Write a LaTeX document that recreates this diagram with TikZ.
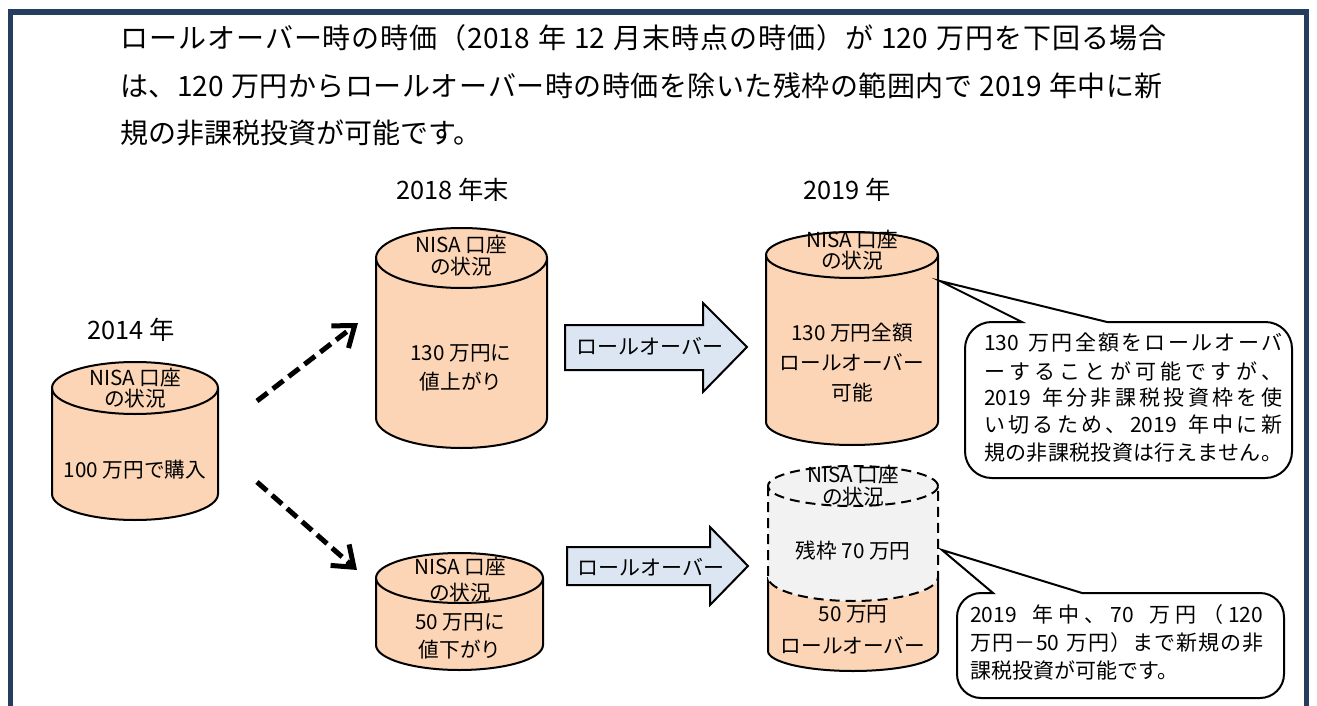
\documentclass[tikz,border=0pt]{standalone}
\usepackage{fontspec}
\setmainfont{Noto Sans CJK JP}
\usetikzlibrary{arrows.meta}
\definecolor{navy}{RGB}{38,62,94}
\definecolor{peach}{RGB}{251,213,181}
\definecolor{grayf}{RGB}{242,242,242}
\definecolor{arrowblue}{RGB}{220,230,242}
% distribute characters evenly in a box of fixed width
\def\jusend{\jusend}
\def\jusgobble#1{}
\def\jus#1{\jusfirst#1\jusend}
\def\jusfirst#1{#1\jusA}
\def\jusA{\futurelet\jusnext\jusB}
\def\jusB{\ifx\jusnext\jusend\expandafter\jusgobble\else\expandafter\jusC\fi}
\def\jusC#1{\hskip 0pt plus 1fil#1\jusA}
\newcommand\cylshape[6]{%
  \path[fill=#6] (#1,-#3) -- (#1,-#4) arc[start angle=180,end angle=360,x radius={(#2-#1)/2},y radius=#5] -- (#2,-#3) arc[start angle=0,end angle=180,x radius={(#2-#1)/2},y radius=#5] -- cycle;
  \draw[cylline] (#1,-#3) -- (#1,-#4) arc[start angle=180,end angle=360,x radius={(#2-#1)/2},y radius=#5] -- (#2,-#3);
  \draw[cylline] ({(#1+#2)/2},-#3) ellipse[x radius={(#2-#1)/2},y radius=#5];
}
\tikzset{
  cylline/.style={line width=1.5pt},
  titletext/.style={anchor=west, inner sep=0pt, font=\fontsize{21}{25}\selectfont},
  yeartext/.style={inner sep=0pt, font=\fontsize{19}{22}\selectfont},
  cyltext/.style={inner sep=0pt, align=center, font=\fontsize{15.5}{#1}\selectfont},
  calltext/.style={anchor=west, inner sep=0pt, font=\fontsize{15.75}{18}\selectfont},
  callout/.style={draw, fill=white, line width=1.5pt, line join=miter},
  blockarrow/.style={draw, fill=arrowblue, line width=1.5pt, line join=miter},
  arrowtext/.style={inner sep=0pt, font=\fontsize{15.75}{18}\selectfont},
  dasharrow/.style={line width=3.75pt, dash pattern=on 10pt off 5pt, -{Straight Barb[length=14pt,width=21pt]}},
}
\begin{document}
\begin{tikzpicture}[x=0.75pt,y=0.75pt]
\useasboundingbox (0,0) rectangle (1317,-706);
% frame
\draw[navy, line width=4.2pt, line join=miter] (10.5,-706) -- (10.5,-12) -- (1306.5,-12) -- (1306.5,-706);
% title
\node[titletext] (t1) at (120,-38) {\hbox to 785pt{\jus{ロールオーバー時の時価（{2018}\ 年\ {12}\ 月末時点の時価）が\ {120}\ 万円を下回る場合}}};
\node[titletext] (t2) at (120,-86) {\hbox to 782pt{\jus{は、{120}\ 万円からロールオーバー時の時価を除いた残枠の範囲内で\ {2019}\ 年中に新}}};
\node[titletext] (t3) at (120,-133) {規の非課税投資が可能です。};
% year labels
\node[yeartext] (y2014) at (131,-330) {2014 年};
\node[yeartext] (y2018) at (453,-190) {2018 年末};
\node[yeartext] (y2019) at (847,-190) {2019 年};
% cylinder 1
\cylshape{52}{218}{388}{494}{26}{peach}
\node[cyltext=15.75] (c1a) at (135,-388) {NISA 口座\\の状況};
\node[cyltext=16] (c1b) at (135,-470) {100 万円で購入};
% cylinder 2
\cylshape{376}{547}{258}{418}{30}{peach}
\node[cyltext=16.5] (c2a) at (461,-256) {NISA 口座\\の状況};
\node[cyltext=21.75] (c2b) at (461,-368) {130 万円に\\値上がり};
% cylinder 3
\cylshape{766}{938}{255}{422}{23}{peach}
\node[cyltext=15.75] (c3a) at (852,-250) {NISA 口座\\の状況};
\node[cyltext=22.5] (c3b) at (852,-363) {130 万円全額\\ロールオーバー\\可能};
% cylinder 4
\cylshape{376}{543}{578}{645}{25}{peach}
\node[cyltext=19.5] (c4a) at (460,-580) {NISA 口座\\の状況};
\node[cyltext=21] (c4b) at (460,-636) {50 万円に\\値下がり};
% cylinder 5 (split)
\path[fill=peach] (768,-577) -- (768,-651) arc[start angle=180,end angle=360,x radius=85,y radius=20] -- (938,-577) arc[start angle=0,end angle=-180,x radius=85,y radius=24] -- cycle;
\draw[cylline] (768,-577) -- (768,-651) arc[start angle=180,end angle=360,x radius=85,y radius=20] -- (938,-577);
\path[fill=grayf] (768,-486) -- (768,-577) arc[start angle=180,end angle=360,x radius=85,y radius=24] -- (938,-486) arc[start angle=0,end angle=180,x radius=85,y radius=20] -- cycle;
\draw[cylline, dash pattern=on 7.5pt off 4.5pt] (768,-486) -- (768,-577) arc[start angle=180,end angle=360,x radius=85,y radius=24] -- (938,-486);
\draw[cylline, dash pattern=on 7.5pt off 4.5pt] (853,-486) ellipse[x radius=85,y radius=20];
\node[cyltext=16.5] (c5a) at (853,-486) {NISA 口座\\の状況};
\node[cyltext=16] (c5b) at (853,-551) {残枠 70 万円};
\node[cyltext=24] (c5c) at (853,-630) {50 万円\\ロールオーバー};
% dashed arrows
\coordinate (ua) at (257,-401);
\coordinate (ub) at (358,-323);
\coordinate (la) at (257,-482);
\coordinate (lb) at (357,-570);
\draw[dasharrow] (ua) -- (ub);
\draw[dasharrow] (la) -- (lb);
% block arrows
\draw[blockarrow] (565,-325) -- (703,-325) -- (703,-303) -- (747,-347) -- (703,-392) -- (703,-370) -- (565,-370) -- cycle;
\node[arrowtext] (ar1) at (650,-346) {ロールオーバー};
\draw[blockarrow] (567,-547) -- (710,-547) -- (710,-527) -- (748,-566) -- (710,-605) -- (710,-585) -- (567,-585) -- cycle;
\node[arrowtext] (ar2) at (651,-567) {ロールオーバー};
% callout 1
\draw[callout] (1107,-322) [rounded corners=20pt] -- (1292,-322) -- (1292,-478) -- (965,-478) -- (965,-322) [sharp corners] -- (1022,-322) -- (940,-281) -- cycle;
\node[calltext] (k1) at (984,-343) {\hbox to 223.5pt{\jus{{130}\ 万円全額をロールオーバ}}};
\node[calltext] (k2) at (984,-371) {\hbox to 223.5pt{\jus{ーすることが可能ですが、}}};
\node[calltext] (k3) at (984,-398) {\hbox to 223.5pt{\jus{{2019}\ 年分非課税投資枠を使}}};
\node[calltext] (k4) at (984,-425) {\hbox to 223.5pt{\jus{い切るため、{2019}\ 年中に新}}};
\node[calltext] (k5) at (984,-453) {\hbox to 223.5pt{\jus{規の非課税投資は行えません。}}};
% callout 2
\draw[callout] (1082,-593) [rounded corners=18pt] -- (1284,-593) -- (1284,-698) -- (957,-698) -- (957,-593) [sharp corners] -- (993,-593) -- (942,-550) -- cycle;
\node[calltext] (m1) at (970,-615) {\hbox to 219.75pt{\jus{{2019}\ 年中、{70}\ 万円（{120}}}};
\node[calltext] (m2) at (970,-643) {\hbox to 219.75pt{\jus{万円－{50}\ 万円）まで新規の非}}};
\node[calltext] (m3) at (970,-670) {課税投資が可能です。};
\end{tikzpicture}
\end{document}
